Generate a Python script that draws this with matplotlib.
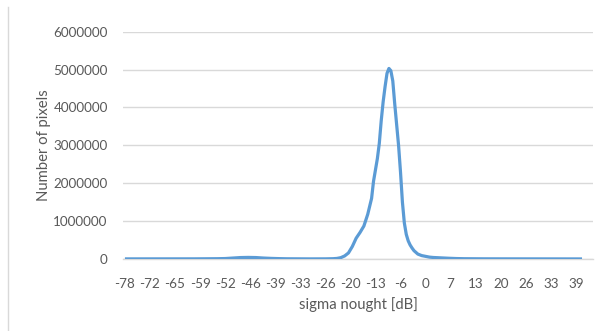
import matplotlib
matplotlib.use("Agg")
import matplotlib.pyplot as plt
from matplotlib.lines import Line2D

# Histogram of backscatter values (sigma nought, dB) vs pixel count
sigma_db = [-78, -60, -54, -52, -50, -48, -46, -44, -42, -40, -38, -36, -30,
            -26, -24, -23, -22, -21, -20, -19, -18, -17, -16, -15, -14, -13.5,
            -13, -12.5, -12, -11.5, -11, -10.5, -10, -9.5, -9, -8.5, -8, -7.5,
            -7, -6.5, -6, -5.5, -5, -4.5, -4, -3.5, -3, -2, -1, 0, 1, 2, 4, 6,
            8, 10, 15, 20, 30, 40.6]
pixel_count = [3000, 4000, 8000, 12000, 25000, 38000, 42000, 38000, 25000,
               16000, 10000, 6000, 3000, 4000, 8000, 15000, 35000, 80000,
               160000, 330000, 550000, 700000, 870000, 1180000, 1600000,
               2050000, 2350000, 2650000, 3050000, 3650000, 4150000, 4550000,
               4900000, 5030000, 4970000, 4700000, 4100000, 3550000, 3000000,
               2300000, 1500000, 950000, 650000, 480000, 370000, 290000,
               220000, 130000, 90000, 70000, 50000, 40000, 30000, 20000,
               12000, 8000, 5000, 4000, 3000, 2000]

tick_values = [-78 + 6.5 * i for i in range(19)]
tick_labels = ["-78", "-72", "-65", "-59", "-52", "-46", "-39", "-33", "-26",
               "-20", "-13", "-6", "0", "7", "13", "20", "26", "33", "39"]
y_ticks = [0, 1000000, 2000000, 3000000, 4000000, 5000000, 6000000]

plt.rcParams["font.family"] = ["Lato", "DejaVu Sans"]
text_color = "#595959"
grid_color = "#d9d9d9"

fig = plt.figure(figsize=(6.07, 3.31), dpi=100)
ax = fig.add_axes([123 / 607, 72 / 331, 470 / 607, 227.3 / 331])

ax.plot(sigma_db, pixel_count, color="#5B9BD5", lw=2.3,
        solid_joinstyle="round", solid_capstyle="butt", zorder=3)

ax.set_xlim(-78.5, 43.45)
ax.set_ylim(0, 6000000)
ax.set_xticks(tick_values)
ax.set_xticklabels(tick_labels)
ax.set_yticks(y_ticks)
ax.set_yticklabels([str(v) for v in y_ticks])
ax.grid(axis="y", color=grid_color, lw=1)
ax.set_axisbelow(True)
for side in ["top", "right", "left"]:
    ax.spines[side].set_visible(False)
ax.spines["bottom"].set_color(grid_color)
ax.spines["bottom"].set_linewidth(1)
ax.tick_params(axis="both", length=0, labelsize=9.7, colors=text_color)
ax.tick_params(axis="x", pad=14)
ax.tick_params(axis="y", pad=11)

ax.set_xlabel("sigma nought [dB]", fontsize=10.7, color=text_color, labelpad=5)
ax.set_ylabel("Number of pixels", fontsize=10.7, color=text_color, labelpad=2)

# thin frame edge on the left of the figure
fig.add_artist(Line2D([8 / 607, 8 / 607], [0, 1 - 7 / 331],
                      transform=fig.transFigure, color=grid_color, lw=1))

fig.savefig("out.png", dpi=100)
